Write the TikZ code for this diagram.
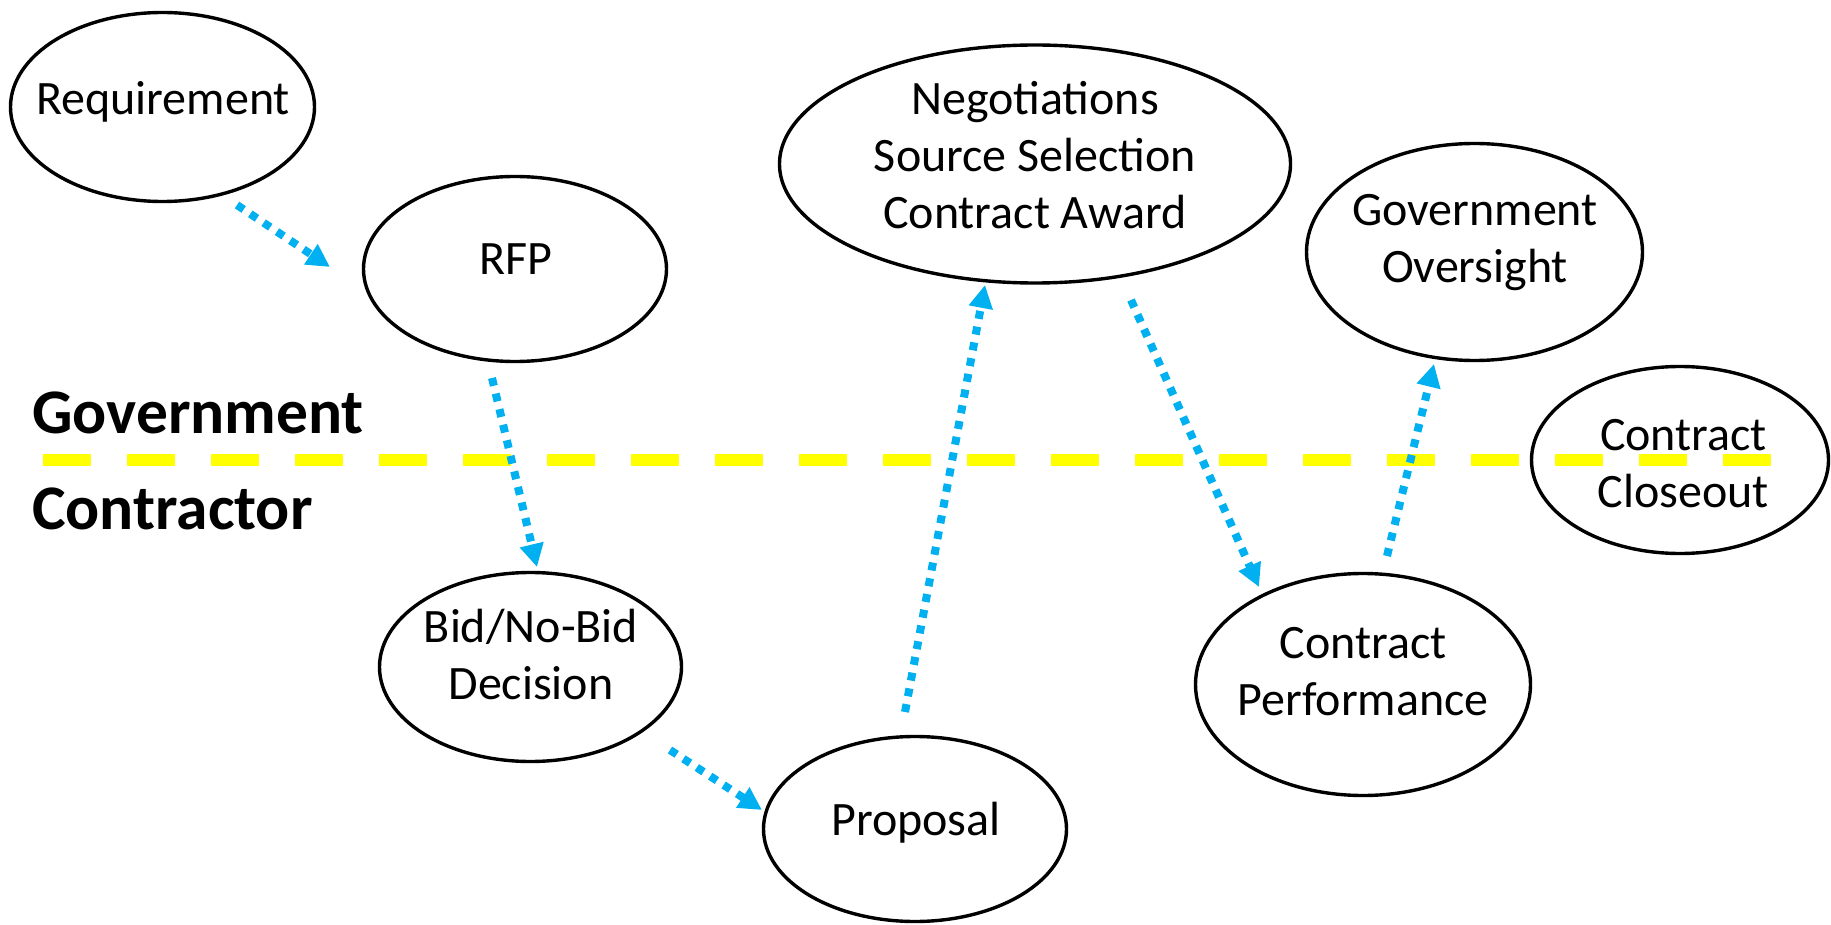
\documentclass[tikz,border=0pt]{standalone}
\usepackage{fontspec}
\setmainfont{Carlito}
\usetikzlibrary{arrows.meta,calc,shapes.geometric}

\definecolor{flowblue}{RGB}{0,176,240}
\definecolor{splityellow}{RGB}{255,255,0}

\tikzset{
  stage/.style={draw=black, line width=3.4pt, ellipse, inner sep=0pt},
  stagetext/.style={font=\fontsize{48}{57}\selectfont, align=center, inner sep=0pt},
  sidelabel/.style={font=\fontsize{63.5}{76}\selectfont\bfseries, inner sep=0pt, anchor=base west},
  flow/.style={draw=flowblue, line width=8pt, dash pattern=on 8pt off 8pt,
    -{Triangle[length=23pt,width=23pt]}, flowblue},
  divider/.style={draw=splityellow, line width=12pt, dash pattern=on 48pt off 36pt}
}

\begin{document}
\begin{tikzpicture}[x=1pt, y=-1pt]
\useasboundingbox (0,0) rectangle (1831,925);

% process stages
\node[stage, minimum width=304pt, minimum height=189pt] (req)   at (162.5,107) {};
\node[stage, minimum width=303pt, minimum height=185pt] (rfp)   at (515,269)   {};
\node[stage, minimum width=302pt, minimum height=189pt] (bid)   at (530.5,667) {};
\node[stage, minimum width=303pt, minimum height=185pt] (prop)  at (915,829)   {};
\node[stage, minimum width=511pt, minimum height=238pt] (neg)   at (1035,164)  {};
\node[stage, minimum width=336pt, minimum height=217pt] (gov)   at (1474.5,252) {};
\node[stage, minimum width=335pt, minimum height=222pt] (perf)  at (1363,684.5) {};
\node[stage, minimum width=297pt, minimum height=187pt] (close) at (1680,460)  {};

% stage captions
\node[stagetext, anchor=base] (reqt)  at (163,115) {Requirement};
\node[stagetext, anchor=base] (rfpt)  at (516,275) {RFP};
\node[stagetext, anchor=base] (propt) at (916,835) {Proposal};
\node[stagetext] (bidt)   at (531,659.6)  {Bid/No-Bid\strut\\Decision\strut};
\node[stagetext] (negt)   at (1035,160.6) {Negotiations\strut\\Source Selection\strut\\Contract Award\strut};
\node[stagetext] (govt)   at (1475,242.6) {Government\strut\\Oversight\strut};
\node[stagetext] (perft)  at (1363,675.1) {Contract\strut\\Performance\strut};
\node[stagetext] (closet) at (1683.5,467.1) {Contract\strut\\Closeout\strut};

% government / contractor boundary
\coordinate (divl) at (43,460);
\coordinate (divr) at (1771,460);
\draw[divider] (divl) -- (divr);
\node[sidelabel] (govlbl) at (32,433) {Government};
\node[sidelabel] (conlbl) at (32,529) {Contractor};

% flow of the process
\draw[flow] ($(req.center)+(74.5,98)$)   -- ($(rfp.center)+(-185,-2)$);
\draw[flow] ($(rfp.center)+(-23,109)$)   -- ($(bid.center)+(6.5,-100)$);
\draw[flow] ($(bid.center)+(139.5,83)$)  -- ($(prop.center)+(-153,-19)$);
\draw[flow] ($(prop.center)+(-10,-117)$) -- ($(neg.center)+(-50,121)$);
\draw[flow] ($(neg.center)+(96,136)$)    -- ($(perf.center)+(-104,-97.5)$);
\draw[flow] ($(perf.center)+(24,-128.5)$) -- ($(gov.center)+(-40.5,112)$);
\end{tikzpicture}
\end{document}
